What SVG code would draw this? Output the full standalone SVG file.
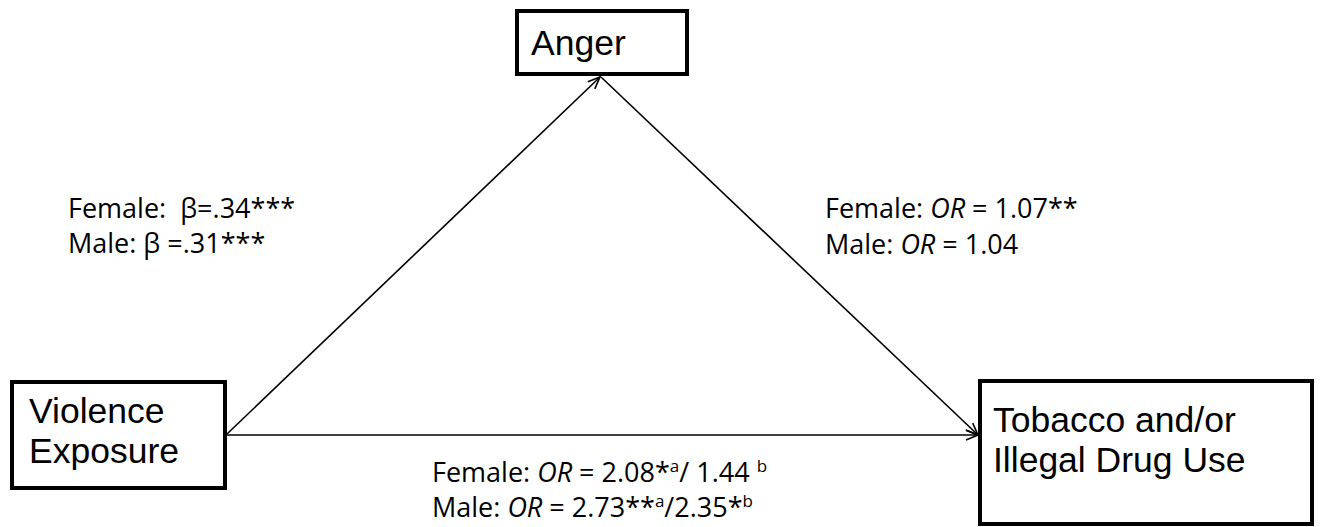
<svg xmlns="http://www.w3.org/2000/svg" width="1320" height="527" viewBox="0 0 1320 527">
<style>
.box{fill:#fff;stroke:#000;stroke-width:4}
.nt{font-family:"Liberation Sans",Arial,sans-serif;font-size:35.5px;fill:#000}
.lb{font-family:"Open Sans","Liberation Sans",sans-serif;font-size:27px;fill:#000}
.ln{stroke:#000;stroke-width:1.6;fill:none}
.sup{font-size:17px}
</style>
<defs>
<marker id="arr" viewBox="0 0 14 12" refX="13" refY="6" markerWidth="14" markerHeight="12" markerUnits="userSpaceOnUse" orient="auto">
<path d="M1,1 L13,6 L1,11" fill="none" stroke="#000" stroke-width="1.6"/>
</marker>
</defs>
<rect width="1320" height="527" fill="#fff"/>
<g id="connectors">
<line class="ln" x1="227" y1="434" x2="600" y2="77" marker-end="url(#arr)"/>
<line class="ln" x1="601" y1="77" x2="978" y2="435" marker-end="url(#arr)"/>
<line class="ln" x1="227" y1="435" x2="978" y2="435" marker-end="url(#arr)"/>
</g>
<g id="anger">
<rect class="box" x="517" y="11" width="170" height="63"/>
<text class="nt" x="531" y="55">Anger</text>
</g>
<g id="violence">
<rect class="box" x="12" y="382" width="213" height="106"/>
<text class="nt"><tspan x="29" y="423">Violence</tspan><tspan x="29" y="463">Exposure</tspan></text>
</g>
<g id="tobacco">
<rect class="box" x="980" y="381" width="332" height="143"/>
<text class="nt"><tspan x="993" y="432">Tobacco and/or</tspan><tspan x="993" y="472">Illegal Drug Use</tspan></text>
</g>
<g id="labels">
<text class="lb" font-size="26.5"><tspan x="68" y="218">Female: &#160;β=.34***</tspan><tspan x="68" y="253">Male: β =.31***</tspan></text>
<text class="lb"><tspan x="825" y="218">Female: <tspan font-style="italic">OR</tspan> = 1.07**</tspan><tspan x="825" y="254">Male: <tspan font-style="italic">OR</tspan> = 1.04</tspan></text>
<text class="lb"><tspan x="432" y="482">Female: <tspan font-style="italic">OR</tspan> = 2.08*</tspan><tspan class="sup" dy="-10">a</tspan><tspan dy="10">/ 1.44 </tspan><tspan class="sup" dy="-10">b</tspan><tspan x="432" y="517">Male: <tspan font-style="italic">OR</tspan> = 2.73**</tspan><tspan class="sup" dy="-10">a</tspan><tspan dy="10">/2.35*</tspan><tspan class="sup" dy="-10">b</tspan></text>
</g>
</svg>
